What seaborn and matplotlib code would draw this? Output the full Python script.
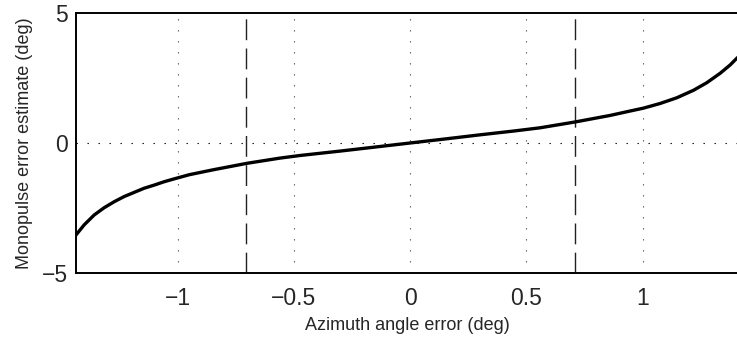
import numpy as np
import pandas as pd
import matplotlib
matplotlib.use("Agg")
import matplotlib.pyplot as plt
import seaborn as sns

# Data
azimuth_error = [-1.437, -1.431, -1.402, -1.359, -1.316, -1.273, -1.230, -1.187,
                 -1.144, -1.101, -1.058, -1.015, -0.950, -0.847, -0.701, -0.559,
                 -0.473, -0.300, -0.150, 0.0, 0.150, 0.301, 0.450, 0.559,
                 0.710, 0.860, 0.946, 1.003, 1.075, 1.147, 1.219, 1.276,
                 1.333, 1.376, 1.405, 1.41]
monopulse_estimate = [-3.54, -3.47, -3.15, -2.77, -2.49, -2.26, -2.06, -1.90,
                      -1.74, -1.62, -1.49, -1.38, -1.22, -1.03, -0.78, -0.58,
                      -0.48, -0.31, -0.155, 0.0, 0.155, 0.315, 0.465, 0.585,
                      0.81, 1.06, 1.23, 1.34, 1.52, 1.74, 2.03, 2.32,
                      2.68, 3.00, 3.26, 3.30]
beam_marks = [-0.707, 0.707]
x_ticks = [-1, -0.5, 0, 0.5, 1]
x_tick_labels = ["\u22121", "\u22120.5", "0", "0.5", "1"]
y_ticks = [-5, 0, 5]
y_tick_labels = ["\u22125", "0", "5"]

df = pd.DataFrame({"az": azimuth_error, "est": monopulse_estimate})

sns.set_theme(style="white")
plt.rcParams["font.family"] = ["Liberation Sans", "DejaVu Sans"]

fig = plt.figure(figsize=(7.37, 3.37), dpi=100)
ax = fig.add_axes([76 / 737, 1 - 273 / 337, (738 - 76) / 737, (273 - 13) / 337])

# grid lines
for xv in x_ticks:
    ax.axvline(xv, color="#555555", lw=0.8, linestyle=(0, (1.2, 8.7)), zorder=1)
ax.axhline(0, color="black", lw=0.8, linestyle=(0, (1.2, 8.7)), zorder=1)

for xv in beam_marks:
    ax.axvline(xv, color="#222222", lw=1.0, linestyle=(0, (15, 6)), zorder=2)

sns.lineplot(data=df, x="az", y="est", ax=ax, color="black", lw=2.4, zorder=3)

ax.set_xlim(-1.437, 1.41)
ax.set_ylim(-5, 5)
ax.set_xticks(x_ticks)
ax.set_xticklabels(x_tick_labels)
ax.set_yticks(y_ticks)
ax.set_yticklabels(y_tick_labels)
ax.tick_params(axis="both", labelsize=16.5, length=3, direction="in", color="black")
ax.tick_params(axis="x", pad=10)
ax.tick_params(axis="y", pad=6)
ax.set_xlabel("Azimuth angle error (deg)", fontsize=13, labelpad=5)
ax.set_ylabel("Monopulse error estimate (deg)", fontsize=13, labelpad=6)

for s in ["left", "bottom", "top", "right"]:
    ax.spines[s].set_color("black")
    ax.spines[s].set_linewidth(1.4)
    ax.spines[s].set_visible(True)

fig.savefig("out.png", dpi=100, facecolor="white")
